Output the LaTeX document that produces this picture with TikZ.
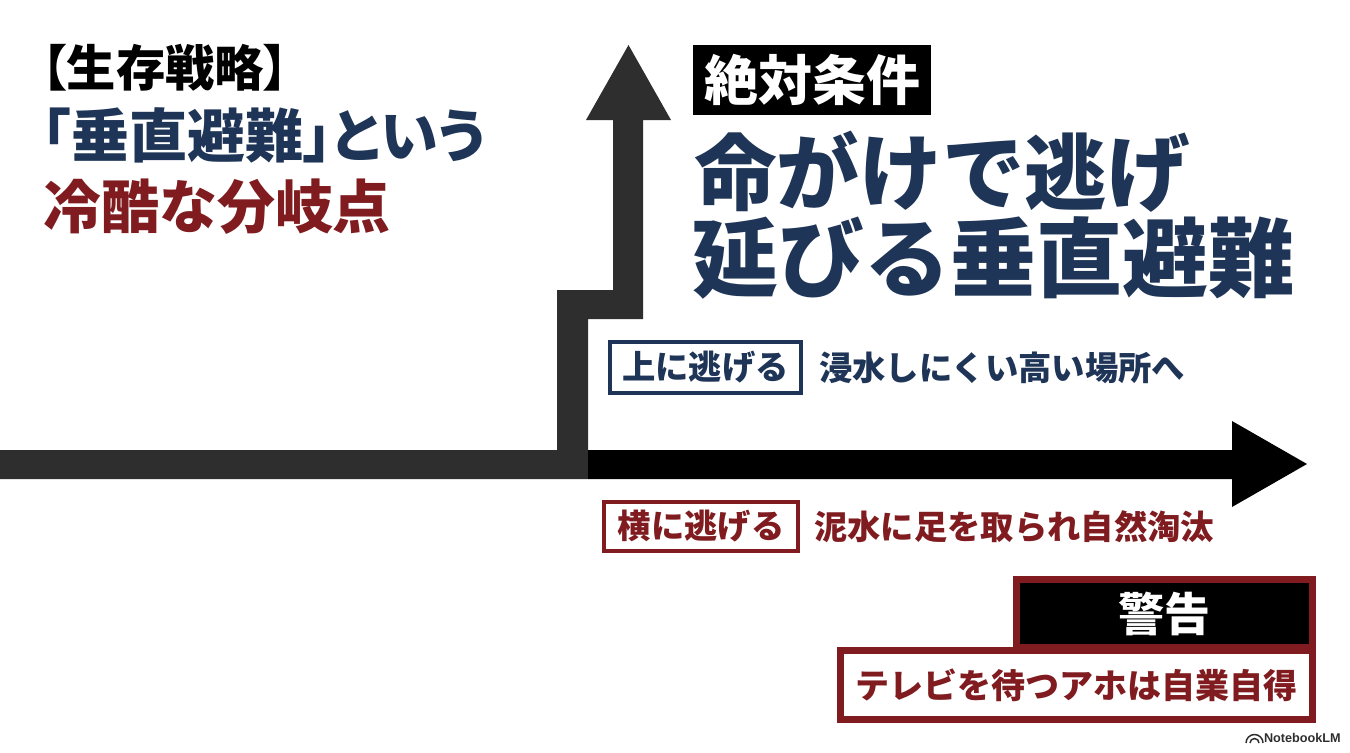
\documentclass[tikz,border=0pt]{standalone}
\usepackage{fontspec}
\newfontfamily\jp{Noto Sans CJK JP}[BoldFont={Noto Sans CJK JP Black}]
\newfontfamily\jpp{Noto Sans CJK JP}[BoldFont={Noto Sans CJK JP Black},RawFeature=+palt]
\newfontfamily\lsans{Liberation Sans}
\definecolor{navy}{HTML}{1F3557}
\definecolor{dred}{HTML}{801C20}
\definecolor{dgray}{HTML}{2E2E2E}
\begin{document}
\begin{tikzpicture}[x=0.75pt,y=-0.75pt,
  every node/.style={inner sep=0pt,outer sep=0pt},
  jpt/.style={font=\jp\bfseries\fontsize{#1}{#1}\selectfont},
  jpp/.style={font=\jpp\bfseries\fontsize{#1}{#1}\selectfont},
  navybox/.style={draw=navy,line width=3pt,fill=white},
  redbox/.style={draw=dred,line width=3pt,fill=white}]
\useasboundingbox (0,0) rectangle (1350,753);
\fill[white] (0,0) rectangle (1350,753);
% gray stepped arrow
\fill[dgray] (0,450) -- (557,450) -- (557,290) -- (613,290) -- (613,120)
  -- (586,120) -- (628.5,45) -- (671,120) -- (643,120) -- (643,319)
  -- (588,319) -- (588,479) -- (0,479) -- cycle;
% black arrow
\fill[black] (588,450) -- (1232,450) -- (1232,421) -- (1307,464)
  -- (1232,507) -- (1232,479) -- (588,479) -- cycle;
% left titles
\node[jpp=37pt,anchor=west,text=black] (t1) at (42,68) {【生存戦略】};
\node[jpp=43.5pt,anchor=west,text=navy] (t2) at (42,135) {「垂直避難」という};
\node[jpt=43.5pt,anchor=west,text=dred] (t3) at (43,207) {冷酷な分岐点};
% condition
\node[fill=black,minimum width=178.5pt,minimum height=52.5pt,jpt=40.5pt,text=white] (cond) at (812,80) {絶対条件};
\node[jpt=62pt,anchor=west,text=navy] (big1) at (694,172) {命がけで逃げ};
\node[jpt=64.5pt,anchor=west,text=navy] (big2) at (692,258) {延びる垂直避難};
% up
\node[navybox,minimum width=143.25pt,minimum height=38.25pt,jpt=25pt,text=navy] (up) at (705.5,367.5) {上に逃げる};
\node[jpt=25pt,anchor=west,text=navy] (upt) at (819,368) {浸水しにくい高い場所へ};
% side
\node[redbox,minimum width=145.5pt,minimum height=36.75pt,jpt=25pt,text=dred] (side) at (701,526.5) {横に逃げる};
\node[jpt=25pt,anchor=west,text=dred] (sidet) at (814,527) {泥水に足を取られ自然淘汰};
% warning
\node[draw=dred,line width=5.25pt,fill=black,minimum width=222pt,minimum height=51pt,jpt=34.5pt,text=white] (warn) at (1164.5,613.5) {警告};
\node[draw=dred,line width=5.25pt,fill=white,minimum width=354pt,minimum height=51.75pt,jpt=25.5pt,text=dred] (warnt) at (1076.5,685) {テレビを待つアホは自業自得};
% NotebookLM mark
\begin{scope}[line width=1.1pt,draw=dgray]
\draw (1250,743) arc[start angle=180,end angle=0,x radius=4.5,y radius=-4.5];
\draw (1246,743) arc[start angle=180,end angle=0,x radius=8.5,y radius=-8.5];
\end{scope}
\node[font=\lsans\bfseries\fontsize{9.5pt}{9.5pt}\selectfont,anchor=west,text=dgray] (nlm) at (1264,738) {NotebookLM};
\end{tikzpicture}
\end{document}
